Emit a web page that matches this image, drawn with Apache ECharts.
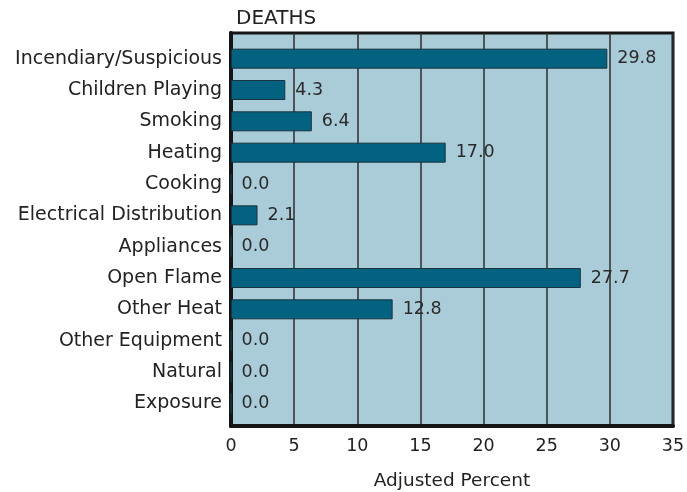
<!DOCTYPE html>
<html>
<head>
<meta charset="utf-8">
<script src="https://cdn.jsdelivr.net/npm/echarts@6/dist/echarts.min.js"></script>
<style>
  html, body { margin: 0; padding: 0; background: #fff; }
  #chart { width: 687px; height: 492px; }
</style>
</head>
<body>
<div id="chart"></div>
<script>
const categories = [
  'Incendiary/Suspicious', 'Children Playing', 'Smoking', 'Heating', 'Cooking',
  'Electrical Distribution', 'Appliances', 'Open Flame', 'Other Heat',
  'Other Equipment', 'Natural', 'Exposure'
];
const deaths = [29.8, 4.3, 6.4, 17.0, 0.0, 2.1, 0.0, 27.7, 12.8, 0.0, 0.0, 0.0];
const xTicks = [0, 5, 10, 15, 20, 25, 30, 35];

const FONT = 'DejaVu Sans';
const chart = echarts.init(document.getElementById('chart'));

const option = {
  animation: false,
  title: {
    text: 'DEATHS',
    left: 231,
    top: 4,
    textStyle: { fontFamily: FONT, fontSize: 20, fontWeight: 'normal', color: '#222' }
  },
  grid: [
    // frame + background
    {
      left: 231, right: 14, top: 33, bottom: 66,
      outerBoundsMode: 'none',
      show: true,
      backgroundColor: '#a9ccd8',
      borderColor: '#151515',
      borderWidth: 3
    },
    // bars
    { left: 231, right: 14, top: 43, bottom: 73, outerBoundsMode: 'none' }
  ],
  xAxis: [
    {
      gridIndex: 0,
      type: 'value',
      min: xTicks[0],
      max: xTicks[xTicks.length - 1],
      interval: 5,
      name: 'Adjusted Percent',
      nameLocation: 'middle',
      nameGap: 46,
      nameTextStyle: { fontFamily: FONT, fontSize: 18.5, color: '#222' },
      axisLine: { show: true, lineStyle: { color: '#151515', width: 4 } },
      axisTick: { show: false },
      axisLabel: { fontFamily: FONT, fontSize: 17.5, color: '#222', margin: 11 },
      splitLine: { show: true, lineStyle: { color: '#2e2e2e', width: 1.5 } }
    },
    {
      gridIndex: 1,
      type: 'value',
      min: xTicks[0],
      max: xTicks[xTicks.length - 1],
      show: false
    }
  ],
  yAxis: [
    {
      gridIndex: 0,
      type: 'value',
      axisLine: { show: true, lineStyle: { color: '#151515', width: 4 } },
      axisLabel: { show: false },
      axisTick: { show: false },
      splitLine: { show: false }
    },
    {
      gridIndex: 1,
      type: 'category',
      inverse: true,
      data: categories,
      axisLine: { show: false },
      axisTick: { show: false },
      axisLabel: { fontFamily: FONT, fontSize: 19, color: '#222', margin: 9 }
    }
  ],
  series: [
    {
      type: 'bar',
      xAxisIndex: 1,
      yAxisIndex: 1,
      data: deaths,
      barWidth: 20,
      itemStyle: { color: '#02627f', borderColor: '#1b3440', borderWidth: 1 },
      label: {
        show: true,
        position: 'right',
        distance: 10,
        fontFamily: FONT,
        fontSize: 17.5,
        color: '#2a2a2a',
        formatter: p => p.value.toFixed(1)
      }
    }
  ]
};

chart.setOption(option);
</script>
</body>
</html>
